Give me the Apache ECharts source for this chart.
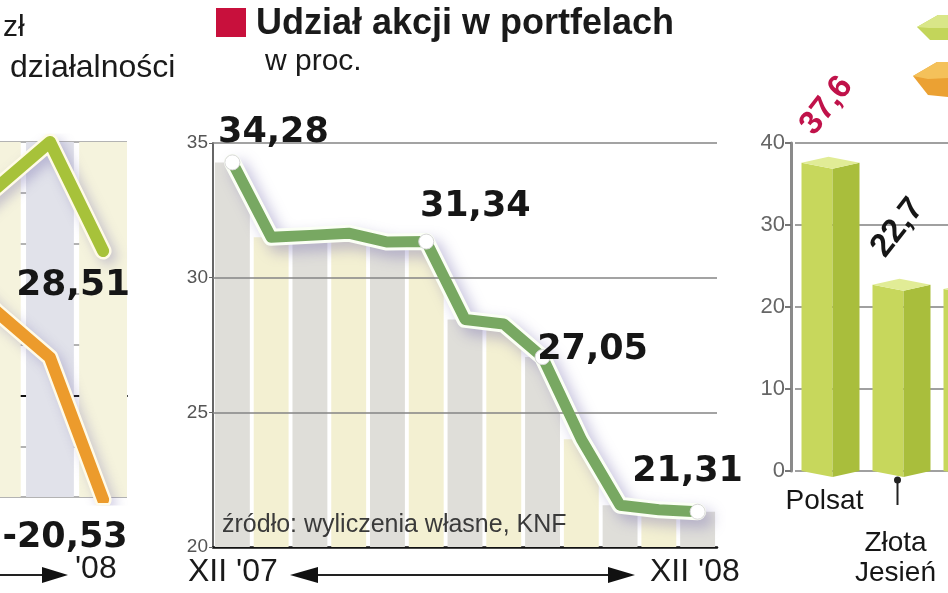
<!DOCTYPE html>
<html><head><meta charset="utf-8">
<script src="https://cdn.jsdelivr.net/npm/echarts@6/dist/echarts.min.js"></script>
<style>html,body{margin:0;padding:0;background:#fff}#c{width:948px;height:593px}</style>
</head><body><div id="c"></div>
<script>
// ---- Left panel (cut off at the left edge) ----
const leftIdx = [9, 10, 11, 12];
const leftGreen = [32, 41, 50, 28.51];
const leftOrange = [27, 16.5, 7.5, -20.53];
const leftYTicks = [-20, 50, 10]; // min, max, step
// ---- Middle panel: Udział akcji w portfelach, w proc. ----
const months = ["XII '07", 'I', 'II', 'III', 'IV', 'V', 'VI', 'VII', 'VIII', 'IX', 'X', 'XI', "XII '08"];
const shareValues = [34.28, 31.5, 31.57, 31.65, 31.32, 31.34, 28.45, 28.28, 27.05, 24.0, 21.55, 21.38, 21.31];
const labeledIdx = [0, 5, 8, 12];
const midYTicks = [20, 25, 30, 35];
// ---- Right panel ----
const funds = ['Polsat', 'Złota\nJesień', ''];
const fundValues = [37.6, 22.7, 22.2];
const rightYTicks = [0, 40, 10];

const fmt = v => v.toFixed(2).replace('.', ',');
const fmt1 = v => v.toFixed(1).replace('.', ',');
const NUMFONT = 'DejaVu Sans';
const TXT = 'Liberation Sans';

const labelOffsets = {0: [41, -29], 5: [49, -35], 8: [50, -7], 12: [-10, -40]};

const chart = echarts.init(document.getElementById('c'), null, {renderer: 'canvas'});

const stripeColors = ['#dfded9', '#f3f0d2'];

const option = {
  animation: false,
  backgroundColor: '#fff',
  grid: [
    {left: 0, top: 142, width: 127, height: 355, outerBoundsMode: 'none', containLabel: false},
    {left: 213, top: 143, width: 504, height: 404, outerBoundsMode: 'none', containLabel: false},
    {left: 795, top: 143, width: 213, height: 328, outerBoundsMode: 'none', containLabel: false}
  ],
  xAxis: [
    {gridIndex: 0, type: 'value', min: 10.06, max: 12.45, splitLine: {show: false},
     axisLabel: {show: false}, axisTick: {show: false},
     axisLine: {show: true, onZero: true, lineStyle: {color: '#111', width: 2}}},
    {gridIndex: 1, type: 'category', data: months, boundaryGap: true,
     axisLabel: {show: false}, axisTick: {show: false},
     axisLine: {show: true, lineStyle: {color: '#111', width: 2.5}}},
    {gridIndex: 2, type: 'category', data: funds, boundaryGap: true,
     axisLabel: {show: false}, axisTick: {show: false}, axisLine: {show: false}}
  ],
  yAxis: [
    {gridIndex: 0, type: 'value', min: leftYTicks[0], max: leftYTicks[1], interval: leftYTicks[2],
     axisLabel: {show: false}, axisLine: {show: false}, axisTick: {show: false},
     splitLine: {show: true, lineStyle: {color: '#9a9a9a', width: 1.5}}},
    {gridIndex: 1, type: 'value', min: midYTicks[0], max: midYTicks[midYTicks.length - 1], interval: 5,
     axisLine: {show: true, lineStyle: {color: '#666', width: 2}},
     axisTick: {show: true, length: 4, lineStyle: {color: '#666'}},
     axisLabel: {color: '#555', fontSize: 19, fontFamily: TXT, margin: 5},
     splitLine: {show: false}},
    {gridIndex: 2, type: 'value', min: rightYTicks[0], max: rightYTicks[1], interval: rightYTicks[2], offset: 4,
     axisLine: {show: true, lineStyle: {color: '#8a8a8a', width: 3}},
     axisTick: {show: true, length: 6, lineStyle: {color: '#777', width: 2}},
     axisLabel: {color: '#666', fontSize: 22, fontFamily: TXT, margin: 6},
     splitLine: {show: true, lineStyle: {color: '#a0a0a0', width: 2}}}
  ],
  series: [
    // ---- left panel ----
    {type: 'line', xAxisIndex: 0, yAxisIndex: 0, z: 1, symbol: 'none', silent: true,
     lineStyle: {width: 0}, data: [],
     markArea: {silent: true, data: [
       [{xAxis: 9.55, itemStyle: {color: '#f5f3dd'}}, {xAxis: 10.45}],
       [{xAxis: 10.55, itemStyle: {color: '#e1e2ea'}}, {xAxis: 11.45}],
       [{xAxis: 11.55, itemStyle: {color: '#f5f3dd'}}, {xAxis: 12.45}]
     ]}},
    {type: 'line', xAxisIndex: 0, yAxisIndex: 0, z: 3, symbol: 'none', silent: true,
     data: leftIdx.map((x, i) => [x, leftGreen[i]]),
     lineStyle: {color: '#fffbe8', width: 17, cap: 'round', join: 'round',
       shadowColor: 'rgba(110,100,170,0.35)', shadowBlur: 12, shadowOffsetX: 5, shadowOffsetY: 5}},
    {type: 'line', xAxisIndex: 0, yAxisIndex: 0, z: 4, symbol: 'none',
     data: leftIdx.map((x, i) => [x, leftGreen[i]]),
     lineStyle: {color: '#a7c23a', width: 12, cap: 'round', join: 'round'},
     label: {show: false},
     endLabel: {show: true, formatter: p => fmt(p.value[1]), offset: [-38, 35],
       fontFamily: NUMFONT, fontWeight: 'bold', fontSize: 36, color: '#161616',
       align: 'center', verticalAlign: 'middle'}},
    {type: 'line', xAxisIndex: 0, yAxisIndex: 0, z: 3, symbol: 'none', silent: true,
     data: leftIdx.map((x, i) => [x, leftOrange[i]]),
     lineStyle: {color: '#fffbe8', width: 17, cap: 'round', join: 'round',
       shadowColor: 'rgba(110,100,170,0.3)', shadowBlur: 12, shadowOffsetX: 5, shadowOffsetY: 5}},
    {type: 'line', xAxisIndex: 0, yAxisIndex: 0, z: 4, symbol: 'none',
     data: leftIdx.map((x, i) => [x, leftOrange[i]]),
     lineStyle: {color: '#ec9b2c', width: 12, cap: 'round', join: 'round'},
     endLabel: {show: true, formatter: p => fmt(p.value[1]), offset: [-46, 38],
       fontFamily: NUMFONT, fontWeight: 'bold', fontSize: 35, color: '#161616',
       align: 'center', verticalAlign: 'middle'}},
    // ---- middle panel ----
    {type: 'bar', xAxisIndex: 1, yAxisIndex: 1, z: 1, silent: true, barCategoryGap: '10%',
     data: shareValues.map((v, i) => ({value: v, itemStyle: {color: stripeColors[i % 2]}}))},
    {type: 'line', xAxisIndex: 1, yAxisIndex: 1, z: 2, silent: true, symbol: 'none',
     data: shareValues, lineStyle: {width: 0},
     areaStyle: {color: '#fff', opacity: 1, origin: 'end'}},
    {type: 'line', xAxisIndex: 1, yAxisIndex: 1, z: 3, silent: true, symbol: 'none',
     data: months.map(() => '-'),
     markLine: {silent: true, symbol: 'none', label: {show: false},
       lineStyle: {color: '#858585', width: 1.5, type: 'solid'},
       data: midYTicks.slice(1).map(v => ({yAxis: v}))}},
    {type: 'line', xAxisIndex: 1, yAxisIndex: 1, z: 4, silent: true, symbol: 'none',
     data: shareValues,
     lineStyle: {color: '#fbfff5', width: 17, cap: 'round', join: 'round',
       shadowColor: 'rgba(110,100,170,0.4)', shadowBlur: 14, shadowOffsetX: 7, shadowOffsetY: 7}},
    {type: 'line', xAxisIndex: 1, yAxisIndex: 1, z: 5, showAllSymbol: true,
     symbol: 'circle',
     data: shareValues.map((v, i) => {
       const on = labeledIdx.includes(i);
       return {value: v, symbolSize: on ? 15 : 0,
         label: on ? {show: true, position: 'inside', offset: labelOffsets[i],
           formatter: p => fmt(p.value)} : {show: false}};
     }),
     itemStyle: {color: '#fff', borderColor: '#d8d8d8', borderWidth: 1},
     lineStyle: {color: '#78a862', width: 11, cap: 'round', join: 'round'},
     label: {fontFamily: NUMFONT, fontWeight: 'bold', fontSize: 35, color: '#161616',
       align: 'center', verticalAlign: 'middle'}},
    // ---- right panel ----
    {type: 'custom', xAxisIndex: 2, yAxisIndex: 2, z: 3,
     data: fundValues.map((v, i) => [i, v]),
     renderItem: (params, api) => {
       const i = api.value(0), v = api.value(1);
       const top = api.coord([i, v]);
       const base = api.coord([i, 0]);
       const cx = top[0], half = 29, wl = 31, d = 6;
       const x0 = cx - half, xm = x0 + wl, x1 = cx + half;
       const yT = top[1], yB = base[1];
       const children = [
         {type: 'polygon', shape: {points: [[x0, yT], [xm, yT + d], [xm, yB + d], [x0, yB]]},
          style: {fill: '#c7d75c'}},
         {type: 'polygon', shape: {points: [[xm, yT + d], [x1, yT], [x1, yB], [xm, yB + d]]},
          style: {fill: '#a9be3c'}},
         {type: 'polygon', shape: {points: [[x0, yT], [xm, yT + d], [x1, yT], [x0 + x1 - xm, yT - d]]},
          style: {fill: '#e1ec96'}}
       ];
       if (funds[i]) {
         children.push({type: 'text', x: cx - 4, y: yT - 57, rotation: 52 * Math.PI / 180,
          style: {text: fmt1(v), fill: i === 0 ? '#c0124a' : '#161616',
            font: 'bold 33px "Liberation Sans"', align: 'center', verticalAlign: 'middle'}});
       }
       if (i === 0) {
         children.push({type: 'text', x: cx - 6, y: yB + 30,
           style: {text: funds[i], fill: '#161616', font: '28px "Liberation Sans"',
             align: 'center', verticalAlign: 'middle'}});
       } else if (funds[i]) {
         children.push({type: 'line', shape: {x1: cx - 4, y1: yB + 8, x2: cx - 4, y2: yB + 34},
           style: {stroke: '#222', lineWidth: 2}});
         children.push({type: 'circle', shape: {cx: cx - 4, cy: yB + 9, r: 3.5}, style: {fill: '#222'}});
         children.push({type: 'text', x: cx - 6, y: yB + 117,
           style: {text: funds[i], fill: '#161616', font: '28px "Liberation Sans"',
             align: 'center', verticalAlign: 'bottom', lineHeight: 30}});
       }
       return {type: 'group', children};
     }}
  ],
  graphic: [
    // left panel header
    {type: 'text', left: 3, top: 13, z: 50, style: {text: 'zł', font: '30px "Liberation Sans"', fill: '#1a1a1a'}},
    {type: 'text', left: 10, top: 52, z: 50, style: {text: 'działalności', font: '32px "Liberation Sans"', fill: '#1a1a1a'}},
    {type: 'text', left: 75, top: 553, z: 50, style: {text: "'08", font: '32px "Liberation Sans"', fill: '#1a1a1a'}},
    {type: 'line', z: 50, shape: {x1: 0, y1: 575, x2: 50, y2: 575}, style: {stroke: '#222', lineWidth: 2}},
    {type: 'polygon', z: 50, shape: {points: [[42, 567], [68, 575], [42, 583]]}, style: {fill: '#111'}},
    // middle panel header
    {type: 'rect', z: 50, shape: {x: 216, y: 8, width: 30, height: 29}, style: {fill: '#c8103c'}},
    {type: 'text', left: 256, top: 6, z: 50, style: {text: 'Udział akcji w portfelach', font: 'bold 36px "Liberation Sans"', fill: '#1a1a1a'}},
    {type: 'text', left: 265, top: 47, z: 50, style: {text: 'w proc.', font: '30px "Liberation Sans"', fill: '#1a1a1a'}},
    {type: 'text', left: 222, top: 513, z: 50, style: {text: 'źródło: wyliczenia własne, KNF', font: '25px "Liberation Sans"', fill: '#3a3a3a'}},
    {type: 'text', left: 188, top: 556, z: 50, style: {text: "XII '07", font: '32px "Liberation Sans"', fill: '#1a1a1a'}},
    {type: 'text', left: 650, top: 556, z: 50, style: {text: "XII '08", font: '32px "Liberation Sans"', fill: '#1a1a1a'}},
    {type: 'line', z: 50, shape: {x1: 310, y1: 575, x2: 615, y2: 575}, style: {stroke: '#222', lineWidth: 2}},
    {type: 'polygon', z: 50, shape: {points: [[318, 567], [290, 575], [318, 583]]}, style: {fill: '#111'}},
    {type: 'polygon', z: 50, shape: {points: [[608, 567], [635, 575], [608, 583]]}, style: {fill: '#111'}},
    // right panel legend keys (cut off)
    {type: 'polygon', z: 50, shape: {points: [[917, 27], [938, 15], [948, 15], [948, 40], [930, 40]]}, style: {fill: '#c3d55a'}},
    {type: 'polygon', z: 51, shape: {points: [[917, 27], [938, 15], [948, 15], [948, 28], [929, 28]]}, style: {fill: '#d9e688'}},
    {type: 'polygon', z: 50, shape: {points: [[913, 76], [937, 62], [948, 62], [948, 97], [928, 95]]}, style: {fill: '#eba133'}},
    {type: 'polygon', z: 51, shape: {points: [[913, 76], [937, 62], [948, 62], [948, 78], [928, 79]]}, style: {fill: '#f4c15a'}}
  ]
};
chart.setOption(option);
</script></body></html>
